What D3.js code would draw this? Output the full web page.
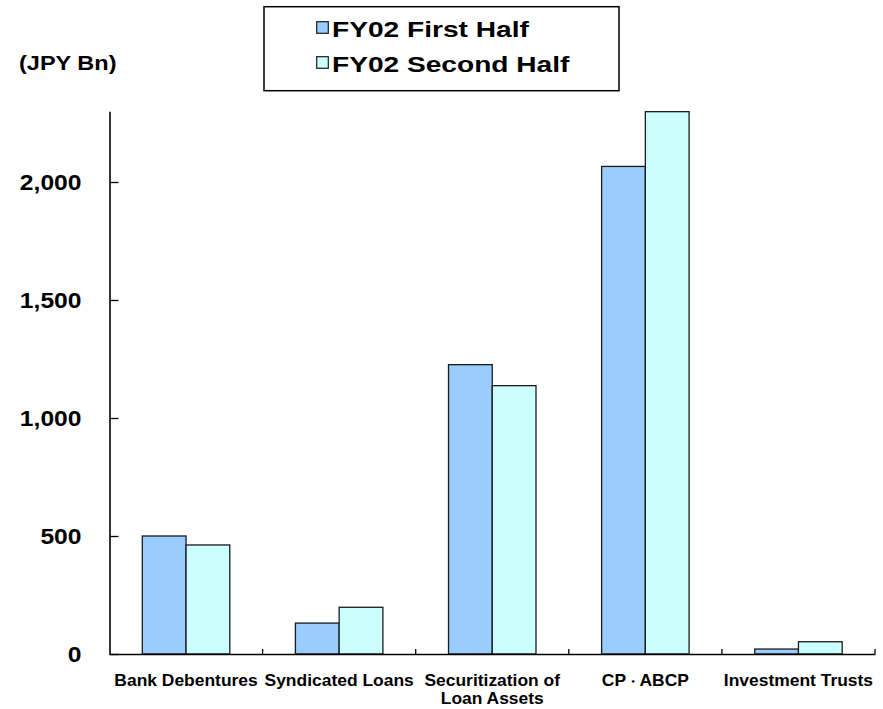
<!DOCTYPE html>
<html>
<head>
<meta charset="utf-8">
<script src="https://cdn.jsdelivr.net/npm/d3@7"></script>
<style>
  html, body { margin: 0; padding: 0; background: #fff; }
  svg { display: block; font-family: "Liberation Sans", Arial, sans-serif; font-weight: bold; }
</style>
</head>
<body>
<svg id="chart" width="883" height="709"></svg>
<script>
// Fund-raising volumes by channel, FY02 halves (JPY Bn)
const categories = ["Bank Debentures", "Syndicated Loans", "Securitization of Loan Assets", "CP・ABCP", "Investment Trusts"];
const categoryLines = [["Bank Debentures"], ["Syndicated Loans"], ["Securitization of", "Loan Assets"], ["CP・ABCP"], ["Investment Trusts"]];
const seriesNames = ["FY02 First Half", "FY02 Second Half"];
const firstHalf = [500, 131, 1226, 2066, 21];
const secondHalf = [462, 198, 1137, 2298, 52];
const yTicks = [0, 500, 1000, 1500, 2000];
const seriesColors = ["#99CCFF", "#CCFFFF"];

const svg = d3.select("#chart");
svg.append("rect").attr("width", 883).attr("height", 709).attr("fill", "#fff");

const plot = { left: 109.5, right: 875, top: 111.2, bottom: 654 };

const y = d3.scaleLinear().domain([0, 2300]).range([plot.bottom, plot.top]);
const x = d3.scaleBand().domain(categories).range([plot.left, plot.right]).paddingInner(0).paddingOuter(0);
const xs = d3.scaleBand().domain(seriesNames).range([0, x.bandwidth()]).paddingInner(0).paddingOuter(0.75);

const rows = categories.map((c, i) => ({ cat: c, values: [firstHalf[i], secondHalf[i]] }));

// Bars
const groups = svg.append("g").selectAll("g").data(rows).join("g")
  .attr("transform", d => `translate(${x(d.cat)},0)`);
groups.selectAll("rect")
  .data(d => d.values.map((v, j) => ({ key: seriesNames[j], v, j })))
  .join("rect")
  .attr("x", d => xs(d.key))
  .attr("width", xs.bandwidth())
  .attr("y", d => y(d.v))
  .attr("height", d => y(0) - y(d.v))
  .attr("fill", d => seriesColors[d.j])
  .attr("stroke", "#1a1a1a")
  .attr("stroke-width", 1.3);

// Y axis
const yAxis = svg.append("g")
  .attr("transform", `translate(${plot.left},0)`)
  .call(d3.axisLeft(y).tickValues(yTicks).tickFormat(d3.format(",")).tickSizeInner(-9).tickSizeOuter(0));
yAxis.select(".domain").attr("stroke", "#000").attr("stroke-width", 1.6);
yAxis.selectAll(".tick line").attr("stroke", "#000").attr("stroke-width", 1.3);
yAxis.selectAll(".tick text")
  .attr("x", 0).attr("dy", "0.36em")
  .attr("transform", "translate(-28,0) scale(1.12,1)")
  .attr("text-anchor", "end")
  .attr("font-family", "Liberation Sans, Arial, sans-serif")
  .attr("font-weight", "bold")
  .attr("font-size", 22)
  .attr("fill", "#000");

// X axis line and category boundary ticks
const xAxis = svg.append("g")
  .attr("transform", `translate(0,${plot.bottom})`)
  .call(d3.axisBottom(x).tickSize(0).tickFormat(""));
xAxis.select(".domain").attr("stroke", "#000").attr("stroke-width", 1.6);
xAxis.selectAll(".tick").remove();
xAxis.selectAll("line.bound")
  .data(categories)
  .join("line")
  .attr("class", "bound")
  .attr("x1", d => x(d) + x.bandwidth()).attr("x2", d => x(d) + x.bandwidth())
  .attr("y1", 0).attr("y2", -5)
  .attr("stroke", "#000").attr("stroke-width", 1.3);

// Category labels (the middle dot is set smaller so it stays narrow)
const labels = svg.append("g").selectAll("g").data(categories).join("g")
  .attr("transform", d => `translate(${x(d) + x.bandwidth() / 2},${plot.bottom + 31.5}) scale(1.07,1)`);
const lineTexts = labels.selectAll("text")
  .data((d, i) => categoryLines[i])
  .join("text")
  .attr("text-anchor", "middle")
  .attr("font-size", 16.3)
  .attr("fill", "#000")
  .attr("y", (d, k) => k * 18.5);
lineTexts.selectAll("tspan")
  .data(d => d.split(/(・)/).filter(s => s.length))
  .join("tspan")
  .attr("font-size", s => (s === "・" ? 13 : null))
  .text(s => s);

// Unit label
svg.append("text")
  .attr("transform", "translate(19,70) scale(1.12,1)")
  .attr("font-size", 21)
  .attr("fill", "#000")
  .text("(JPY Bn)");

// Legend
const legend = svg.append("g");
legend.append("rect")
  .attr("x", 264).attr("y", 6.7).attr("width", 355).attr("height", 84)
  .attr("fill", "#fff").attr("stroke", "#000").attr("stroke-width", 1.5);
const items = legend.selectAll("g.item").data(seriesNames).join("g")
  .attr("class", "item")
  .attr("transform", (d, i) => `translate(316.7,${21.7 + i * 35})`);
items.append("rect")
  .attr("width", 11.6).attr("height", 11.6)
  .attr("fill", (d, i) => seriesColors[i])
  .attr("stroke", "#1a1a1a").attr("stroke-width", 1.2);
items.append("text")
  .attr("transform", "translate(15.3,15) scale(1.25,1)")
  .attr("font-size", 22.5)
  .attr("fill", "#000")
  .text(d => d);
</script>
</body>
</html>
